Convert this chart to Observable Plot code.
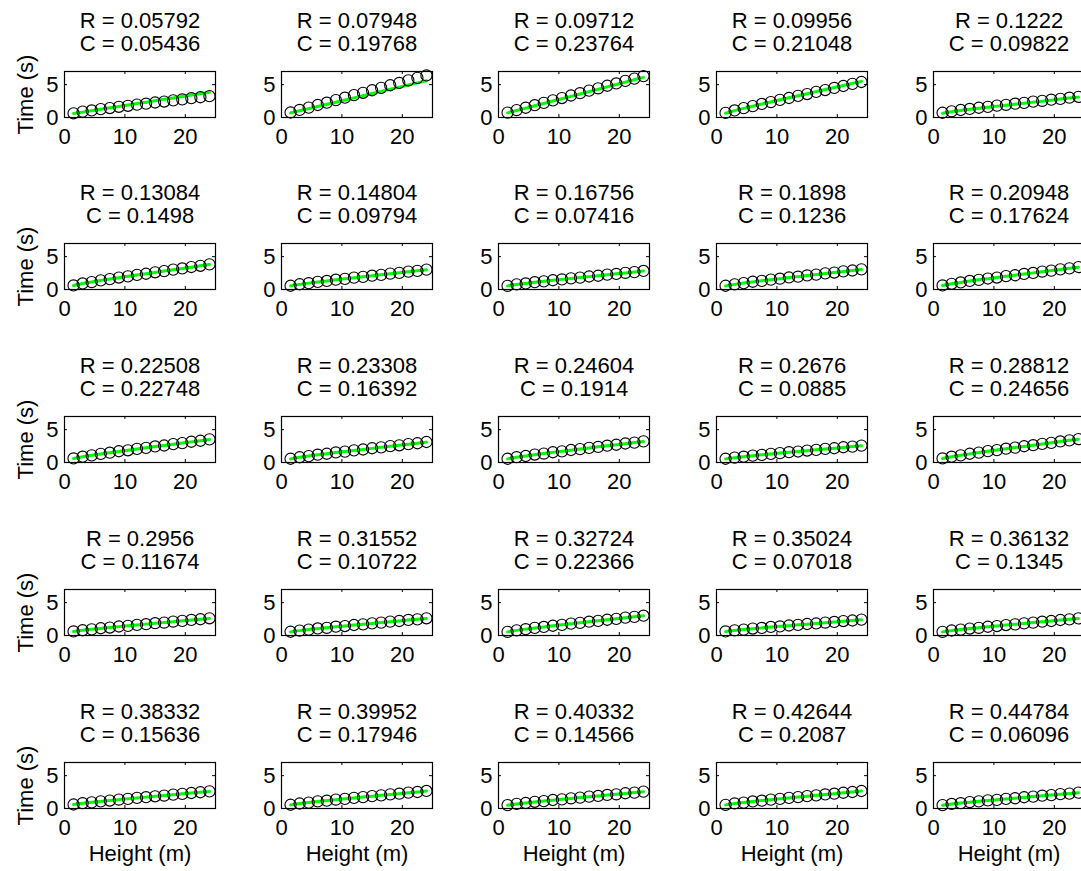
<!DOCTYPE html>
<html><head><meta charset="utf-8">
<script src="https://cdn.jsdelivr.net/npm/d3@7"></script>
<script src="https://cdn.jsdelivr.net/npm/@observablehq/plot@0.6"></script>
<style>
html,body{margin:0;padding:0;background:#fff;overflow:hidden;}
#chart{position:relative;width:1081px;height:871px;overflow:hidden;background:#fff;}
#chart svg{position:absolute;}
</style></head><body><div id="chart"></div>
<script>
// Drop heights (m), shared by every panel
const heights = [1.5,3,4.5,6,7.5,9,10.5,12,13.5,15,16.5,18,19.5,21,22.5,24];
// Panel parameters (titles)
const rValues = [0.05792,0.07948,0.09712,0.09956,0.1222,0.13084,0.14804,0.16756,0.1898,0.20948,0.22508,0.23308,0.24604,0.2676,0.28812,0.2956,0.31552,0.32724,0.35024,0.36132,0.38332,0.39952,0.40332,0.42644,0.44784];
const cValues = [0.05436,0.19768,0.23764,0.21048,0.09822,0.1498,0.09794,0.07416,0.1236,0.17624,0.22748,0.16392,0.1914,0.0885,0.24656,0.11674,0.10722,0.22366,0.07018,0.1345,0.15636,0.17946,0.14566,0.2087,0.06096];
const xTicks = [0,10,20];
const yTicks = [0,5];
const xLabel = "Height (m)";
const yLabel = "Time (s)";
// Measured times (s), circles
const measured = [
[0.64,0.89,1.07,1.28,1.44,1.63,1.78,1.96,2.10,2.28,2.43,2.61,2.75,2.94,3.08,3.25],
[0.76,1.15,1.50,1.90,2.25,2.65,3.01,3.40,3.76,4.15,4.51,4.91,5.26,5.66,6.03,6.40],
[0.75,1.13,1.48,1.87,2.22,2.61,2.96,3.35,3.70,4.09,4.44,4.83,5.18,5.57,5.92,6.30],
[0.70,1.07,1.42,1.73,2.06,2.35,2.68,2.97,3.29,3.57,3.90,4.18,4.50,4.79,5.11,5.40],
[0.72,0.94,1.14,1.30,1.48,1.62,1.80,1.93,2.10,2.23,2.41,2.54,2.71,2.84,3.01,3.15],
[0.62,0.92,1.13,1.39,1.58,1.82,2.00,2.23,2.40,2.62,2.80,3.03,3.20,3.42,3.61,3.82],
[0.57,0.80,0.96,1.16,1.30,1.49,1.62,1.80,1.92,2.10,2.23,2.41,2.53,2.72,2.84,3.02],
[0.56,0.78,0.92,1.11,1.24,1.41,1.53,1.70,1.81,1.98,2.09,2.26,2.37,2.54,2.65,2.82],
[0.57,0.79,0.97,1.18,1.31,1.50,1.64,1.83,1.95,2.14,2.27,2.45,2.58,2.76,2.89,3.07],
[0.62,0.87,1.07,1.30,1.46,1.67,1.82,2.03,2.17,2.37,2.52,2.73,2.87,3.07,3.22,3.42],
[0.62,0.88,1.08,1.32,1.49,1.71,1.86,2.08,2.23,2.44,2.59,2.80,2.95,3.16,3.31,3.52],
[0.57,0.80,0.97,1.19,1.33,1.53,1.66,1.85,1.98,2.17,2.30,2.49,2.62,2.80,2.93,3.12],
[0.57,0.81,0.99,1.21,1.36,1.56,1.70,1.90,2.04,2.23,2.37,2.56,2.70,2.89,3.03,3.22],
[0.57,0.75,0.88,1.05,1.16,1.32,1.42,1.57,1.67,1.82,1.92,2.07,2.17,2.32,2.42,2.57],
[0.62,0.88,1.09,1.33,1.50,1.73,1.89,2.10,2.26,2.47,2.63,2.84,2.99,3.20,3.36,3.57],
[0.62,0.80,0.93,1.10,1.21,1.37,1.47,1.62,1.72,1.87,1.97,2.12,2.22,2.37,2.47,2.62],
[0.57,0.75,0.89,1.07,1.17,1.34,1.44,1.60,1.70,1.85,1.96,2.11,2.21,2.37,2.46,2.62],
[0.56,0.79,0.96,1.16,1.30,1.48,1.62,1.80,1.92,2.10,2.23,2.40,2.53,2.72,2.84,3.01],
[0.62,0.78,0.90,1.06,1.15,1.30,1.38,1.52,1.61,1.75,1.83,1.97,2.06,2.20,2.28,2.42],
[0.56,0.76,0.89,1.06,1.17,1.33,1.44,1.59,1.70,1.84,1.96,2.10,2.21,2.36,2.46,2.61],
[0.61,0.81,0.93,1.09,1.21,1.36,1.47,1.61,1.72,1.86,1.97,2.11,2.22,2.36,2.47,2.61],
[0.57,0.76,0.90,1.08,1.19,1.36,1.46,1.62,1.73,1.89,1.99,2.15,2.25,2.41,2.51,2.67],
[0.52,0.70,0.84,1.02,1.12,1.29,1.39,1.55,1.65,1.80,1.91,2.06,2.16,2.32,2.41,2.57],
[0.56,0.77,0.90,1.07,1.19,1.35,1.46,1.61,1.73,1.88,1.99,2.14,2.25,2.40,2.51,2.66],
[0.52,0.69,0.81,0.98,1.08,1.23,1.32,1.47,1.56,1.71,1.80,1.95,2.04,2.18,2.27,2.42]
];
// Model times (s), green curve
const model = [
[0.60,0.82,1.03,1.25,1.47,1.68,1.90,2.12,2.33,2.55,2.77,2.98,3.20,3.42,3.63,3.85],
[0.70,1.03,1.35,1.68,2.01,2.33,2.66,2.99,3.31,3.64,3.97,4.29,4.62,4.95,5.27,5.60],
[0.70,1.06,1.42,1.78,2.14,2.50,2.86,3.22,3.58,3.94,4.30,4.66,5.02,5.38,5.74,6.10],
[0.65,1.04,1.39,1.72,2.05,2.37,2.69,3.00,3.31,3.62,3.94,4.25,4.56,4.88,5.19,5.50],
[0.65,0.88,1.07,1.24,1.41,1.57,1.73,1.88,2.03,2.18,2.34,2.49,2.64,2.80,2.95,3.10],
[0.60,0.90,1.14,1.37,1.59,1.80,2.01,2.21,2.41,2.60,2.81,3.01,3.21,3.40,3.60,3.80],
[0.55,0.78,0.97,1.14,1.31,1.47,1.63,1.78,1.93,2.08,2.24,2.39,2.54,2.70,2.85,3.00],
[0.55,0.76,0.93,1.10,1.25,1.39,1.54,1.68,1.82,1.96,2.10,2.24,2.38,2.52,2.66,2.80],
[0.55,0.78,0.98,1.16,1.32,1.49,1.65,1.81,1.96,2.12,2.28,2.43,2.59,2.74,2.90,3.05],
[0.60,0.86,1.08,1.28,1.47,1.65,1.83,2.01,2.18,2.35,2.53,2.71,2.88,3.05,3.23,3.40],
[0.60,0.87,1.09,1.30,1.50,1.69,1.87,2.06,2.24,2.42,2.60,2.78,2.96,3.14,3.32,3.50],
[0.55,0.79,0.98,1.17,1.34,1.51,1.67,1.83,1.99,2.15,2.31,2.47,2.63,2.78,2.94,3.10],
[0.55,0.80,1.00,1.19,1.37,1.54,1.71,1.88,2.05,2.21,2.38,2.54,2.71,2.87,3.04,3.20],
[0.55,0.74,0.89,1.03,1.17,1.30,1.43,1.55,1.68,1.80,1.93,2.05,2.18,2.30,2.43,2.55],
[0.60,0.87,1.10,1.31,1.51,1.71,1.90,2.08,2.27,2.45,2.64,2.82,3.00,3.18,3.37,3.55],
[0.60,0.79,0.94,1.08,1.22,1.35,1.48,1.60,1.73,1.85,1.98,2.10,2.23,2.35,2.48,2.60],
[0.55,0.74,0.90,1.05,1.18,1.32,1.45,1.58,1.71,1.83,1.97,2.09,2.22,2.35,2.47,2.60],
[0.55,0.78,0.97,1.14,1.31,1.47,1.63,1.78,1.93,2.08,2.24,2.39,2.54,2.70,2.85,3.00],
[0.60,0.77,0.91,1.04,1.16,1.28,1.39,1.50,1.62,1.73,1.84,1.95,2.07,2.18,2.29,2.40],
[0.55,0.74,0.90,1.05,1.18,1.32,1.45,1.58,1.71,1.83,1.97,2.09,2.22,2.35,2.47,2.60],
[0.60,0.79,0.94,1.08,1.22,1.35,1.48,1.60,1.73,1.85,1.98,2.10,2.23,2.35,2.48,2.60],
[0.55,0.75,0.91,1.06,1.20,1.34,1.47,1.60,1.74,1.87,2.00,2.13,2.26,2.39,2.52,2.65],
[0.50,0.69,0.85,1.00,1.13,1.27,1.40,1.53,1.66,1.78,1.92,2.04,2.17,2.30,2.42,2.55],
[0.55,0.75,0.91,1.06,1.20,1.34,1.47,1.60,1.74,1.87,2.00,2.13,2.26,2.39,2.52,2.65],
[0.50,0.68,0.82,0.96,1.09,1.21,1.33,1.45,1.57,1.69,1.81,1.93,2.05,2.16,2.28,2.40]
];

const FONT = "Liberation Sans, Arial, Helvetica, sans-serif";
const FS = 22;
const boxW = 151, boxH = 46;
const mL = 60, mR = 10, mT = 74, mB = 62;
const container = document.getElementById("chart");

for (let p = 0; p < 25; p++) {
  const row = Math.floor(p / 5), col = p % 5;
  const rows = heights.map((h, i) => ({h, t: measured[p][i], m: model[p][i]}));
  const marks = [
    Plot.line(rows, {x: "h", y: "m", stroke: "#00ff00", strokeWidth: 3}),
    Plot.dot(rows, {x: "h", y: "t", r: 5.6, stroke: "black", fill: "none", strokeWidth: 1.1}),
    Plot.ruleX(xTicks, {insetTop: boxH - 3, stroke: "black"}),
    Plot.ruleX(xTicks, {insetBottom: boxH - 3, stroke: "black"}),
    Plot.ruleY(yTicks, {insetRight: boxW - 3, stroke: "black"}),
    Plot.ruleY(yTicks, {insetLeft: boxW - 3, stroke: "black"}),
    Plot.frame({stroke: "black", strokeWidth: 1.2}),
    Plot.axisX(xTicks, {tickSize: 0, tickPadding: 11, label: null, fontSize: FS}),
    Plot.axisY(yTicks, {tickSize: 0, tickPadding: 6, label: null, fontSize: FS}),
    Plot.text([`R = ${rValues[p]}`], {frameAnchor: "top", lineAnchor: "middle", textAnchor: "middle", dy: -51, fontSize: FS, fill: "black"}),
    Plot.text([`C = ${cValues[p]}`], {frameAnchor: "top", lineAnchor: "middle", textAnchor: "middle", dy: -28, fontSize: FS, fill: "black"})
  ];
  if (col === 0) marks.push(Plot.text([yLabel], {frameAnchor: "left", textAnchor: "middle", lineAnchor: "middle", rotate: -90, dx: -39, fontSize: FS, fill: "black"}));
  if (row === 4) marks.push(Plot.text([xLabel], {frameAnchor: "bottom", textAnchor: "middle", lineAnchor: "middle", dy: 45, fontSize: FS, fill: "black"}));
  const svg = Plot.plot({
    width: mL + boxW + mR,
    height: mT + boxH + mB,
    marginLeft: mL, marginRight: mR, marginTop: mT, marginBottom: mB,
    x: {domain: [0, 25]},
    y: {domain: [0, 7]},
    style: {background: "transparent", fontFamily: FONT, fontSize: FS + "px", color: "black", overflow: "visible"},
    marks
  });
  svg.style.left = (Math.round(63.5 + 217.4 * col) - mL) + "px";
  svg.style.top = (Math.round(70.5 + 172.8 * row) - mT) + "px";
  svg.style.maxWidth = "none";
  container.appendChild(svg);
}
</script>
</body></html>
